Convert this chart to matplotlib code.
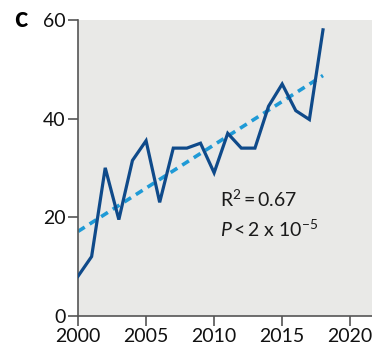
import numpy as np
import matplotlib
matplotlib.use("Agg")
import matplotlib.pyplot as plt

years = list(range(2000, 2019))
values = [8, 12, 30, 19.5, 31.5, 35.5, 23, 34, 34, 35, 29, 37, 34, 34, 42.5, 47, 41.6, 39.8, 58]
x_ticks = [2000, 2005, 2010, 2015, 2020]
y_ticks = [0, 20, 40, 60]

plt.rcParams['font.family'] = ['Lato', 'DejaVu Sans']
plt.rcParams['mathtext.fontset'] = 'custom'
plt.rcParams['mathtext.rm'] = 'Lato'
plt.rcParams['mathtext.it'] = 'Lato:italic'
plt.rcParams['mathtext.bf'] = 'Lato:bold'

fig = plt.figure(figsize=(3.72, 3.53), dpi=100)
ax = fig.add_axes([0.2097, 0.1057, 0.7903, 0.8377])
ax.set_facecolor('#e9e9e7')

# linear trend fitted to the annual series
slope, intercept = np.polyfit(years, values, 1)
trend_x = np.array([years[0], years[-1]])
ax.plot(trend_x, slope * trend_x + intercept, color='#1f9ad6', lw=2.6,
        linestyle=(0, (2.2, 1.6)), zorder=2)
ax.plot(years, values, color='#0f4a8a', lw=2.3, solid_joinstyle='miter', zorder=3)

ax.set_xlim(2000, 2021.6)
ax.set_ylim(0, 60)
ax.set_xticks(x_ticks)
ax.set_yticks(y_ticks)
for side in ['top', 'right']:
    ax.spines[side].set_visible(False)
for side in ['left', 'bottom']:
    ax.spines[side].set_color('#555555')
    ax.spines[side].set_linewidth(1.2)
ax.tick_params(axis='both', direction='out', length=7, width=1.2, color='#555555',
               labelsize=14, labelcolor='#111111', pad=2)

ax.text(2010.4, 25.8, r'R$^{2}$$\,$=$\,$0.67', fontsize=14, va='top', ha='left', color='#1a1a1a')
ax.text(2010.4, 19.6, r'$P$$\,$<$\,$2 x 10$^{-5}$', fontsize=14, va='top', ha='left', color='#1a1a1a')

fig.text(0.038, 0.945, 'c', fontsize=20, fontweight='bold', va='center', ha='left')

fig.savefig('out.png', dpi=100)
